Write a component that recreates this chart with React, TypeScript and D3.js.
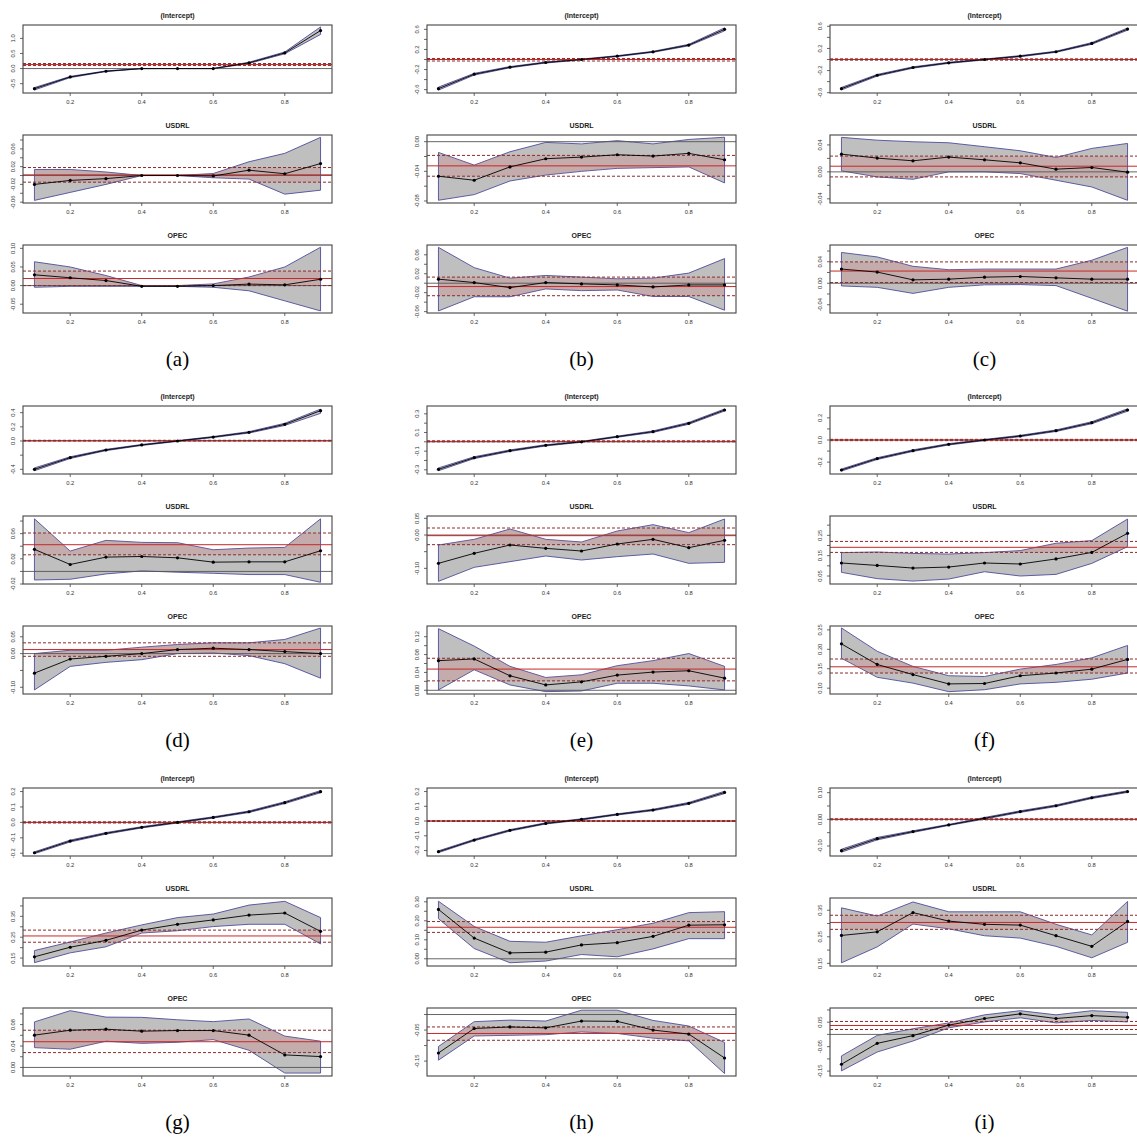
import React from "react";
import * as d3 from "d3";

const taus = [0.1, 0.2, 0.3, 0.4, 0.5, 0.6, 0.7, 0.8, 0.9];
const xTickLabels = ["0.2", "0.4", "0.6", "0.8"];
const subTitles = ["(Intercept)", "USDRL", "OPEC"];
const panelLabels = ["(a)", "(b)", "(c)", "(d)", "(e)", "(f)", "(g)", "(h)", "(i)"];

// (a)
const aIntercept = {
  coef: [-0.667, -0.278, -0.089, 0, 0, 0, 0.19, 0.52, 1.26],
  low: [-0.71, -0.3, -0.1, -0.004, 0, -0.004, 0.17, 0.49, 1.13],
  high: [-0.63, -0.26, -0.078, 0.004, 0, 0.004, 0.21, 0.55, 1.38],
  ols: [0.133, 0.1, 0.167],
  domain: [-0.81, 1.444],
  ticks: [-0.5, 0, 0.5, 1.0],
  labels: ["-0.5", "0.0", "0.5", "1.0"],
};
const aUsdrl = {
  coef: [-0.02, -0.011, -0.007, 0, 0, -0.001, 0.012, 0.004, 0.027],
  low: [-0.056, -0.038, -0.02, 0, 0, -0.005, -0.008, -0.042, -0.033],
  high: [0.0136, 0.0136, 0.008, 0, 0, 0.0045, 0.031, 0.05, 0.086],
  ols: [0.0015, -0.015, 0.018],
  domain: [-0.0619, 0.0913],
  ticks: [-0.06, -0.04, -0.02, 0, 0.02, 0.04, 0.06, 0.08],
  labels: ["-0.06", "-0.02", "0.02", "0.06"],
};
const aOpec = {
  coef: [0.029, 0.021, 0.0136, -0.002, -0.002, 0, 0.004, 0.002, 0.017],
  low: [-0.0045, -0.002, -0.002, -0.002, -0.002, -0.0045, -0.014, -0.041, -0.068],
  high: [0.064, 0.05, 0.027, 0, 0, 0.0045, 0.023, 0.05, 0.103],
  ols: [0.019, 0.0, 0.039],
  domain: [-0.0736, 0.109],
  ticks: [-0.05, 0, 0.05, 0.1],
  labels: ["-0.05", "0.00", "0.05", "0.10"],
};

// (b)
const bIntercept = {
  coef: [-0.58, -0.293, -0.153, -0.06, 0, 0.067, 0.153, 0.287, 0.6],
  low: [-0.61, -0.31, -0.165, -0.07, -0.008, 0.058, 0.143, 0.272, 0.57],
  high: [-0.55, -0.276, -0.141, -0.05, 0.008, 0.076, 0.163, 0.302, 0.63],
  ols: [0, -0.03, 0.02],
  domain: [-0.667, 0.687],
  ticks: [-0.6, -0.4, -0.2, 0, 0.2, 0.4, 0.6],
  labels: ["-0.6", "-0.2", "0.2", "0.6"],
};
const bUsdrl = {
  coef: [-0.0466, -0.052, -0.034, -0.023, -0.0208, -0.0176, -0.0194, -0.0158, -0.0244],
  low: [-0.079, -0.0714, -0.053, -0.045, -0.04, -0.036, -0.035, -0.034, -0.0556],
  high: [-0.0145, -0.0316, -0.0136, -0.001, -0.003, 0.0014, -0.003, 0.003, 0.006],
  ols: [-0.0326, -0.0466, -0.0185],
  domain: [-0.0827, 0.009],
  ticks: [-0.08, -0.06, -0.04, -0.02, 0],
  labels: ["-0.08", "-0.04", "0.00"],
};
const bOpec = {
  coef: [0.0086, 0.0014, -0.0093, 0.0014, -0.0014, -0.0036, -0.0079, -0.0036, -0.0036],
  low: [-0.0586, -0.0286, -0.0286, -0.012, -0.0157, -0.0143, -0.028, -0.028, -0.057],
  high: [0.0757, 0.0329, 0.0107, 0.0164, 0.0129, 0.0093, 0.0107, 0.0214, 0.052],
  ols: [-0.0071, -0.0264, 0.0129],
  domain: [-0.0629, 0.0807],
  ticks: [-0.06, -0.04, -0.02, 0, 0.02, 0.04, 0.06],
  labels: ["-0.06", "-0.02", "0.02", "0.06"],
};

// (c)
const cIntercept = {
  coef: [-0.527, -0.285, -0.145, -0.06, 0, 0.06, 0.14, 0.29, 0.55],
  low: [-0.55, -0.3, -0.157, -0.07, -0.008, 0.05, 0.13, 0.275, 0.53],
  high: [-0.505, -0.27, -0.133, -0.05, 0.008, 0.07, 0.15, 0.305, 0.57],
  ols: [0, -0.012, 0.012],
  domain: [-0.606, 0.624],
  ticks: [-0.6, -0.4, -0.2, 0, 0.2, 0.4, 0.6],
  labels: ["-0.6", "-0.2", "0.2", "0.6"],
};
const cUsdrl = {
  coef: [0.0263, 0.0204, 0.0164, 0.0219, 0.0179, 0.0134, 0.004, 0.0065, -0.0005],
  low: [0.0015, -0.0075, -0.011, 0, 0, -0.0025, -0.0124, -0.0224, -0.0422],
  high: [0.0512, 0.047, 0.0447, 0.0432, 0.0373, 0.0313, 0.0214, 0.0348, 0.0422],
  ols: [0.0084, -0.0075, 0.0234],
  domain: [-0.0462, 0.0547],
  ticks: [-0.04, -0.02, 0, 0.02, 0.04],
  labels: ["-0.04", "0.00", "0.04"],
};
const cOpec = {
  coef: [0.0264, 0.0208, 0.0063, 0.0076, 0.0113, 0.0126, 0.01, 0.0076, 0.0076],
  low: [-0.005, -0.0076, -0.0189, -0.0076, -0.003, -0.0025, -0.0044, -0.028, -0.052],
  high: [0.0573, 0.049, 0.0315, 0.0252, 0.0264, 0.0264, 0.0264, 0.0428, 0.0668],
  ols: [0.0227, 0.0013, 0.0397],
  domain: [-0.0554, 0.0712],
  ticks: [-0.04, -0.02, 0, 0.02, 0.04, 0.06],
  labels: ["-0.04", "0.00", "0.04"],
};

// (d)
const dIntercept = {
  coef: [-0.4, -0.235, -0.127, -0.056, 0, 0.056, 0.122, 0.235, 0.428],
  low: [-0.42, -0.247, -0.136, -0.063, -0.006, 0.049, 0.112, 0.22, 0.39],
  high: [-0.38, -0.223, -0.118, -0.049, 0.006, 0.063, 0.132, 0.25, 0.45],
  ols: [0.005, 0, 0.01],
  domain: [-0.466, 0.494],
  ticks: [-0.4, -0.2, 0, 0.2, 0.4],
  labels: ["-0.4", "0.0", "0.2", "0.4"],
};
const dUsdrl = {
  coef: [0.035, 0.011, 0.0227, 0.0237, 0.0216, 0.0147, 0.0152, 0.0152, 0.0328],
  low: [-0.0136, -0.0125, -0.004, 0.0008, -0.0013, -0.003, -0.005, -0.005, -0.0173],
  high: [0.0835, 0.0323, 0.0493, 0.0461, 0.0456, 0.0344, 0.0371, 0.0381, 0.0835],
  ols: [0.0424, 0.0264, 0.061],
  domain: [-0.02, 0.088],
  ticks: [-0.02, 0, 0.02, 0.04, 0.06, 0.08],
  labels: ["-0.02", "0.02", "0.06"],
};
const dOpec = {
  coef: [-0.058, -0.016, -0.008, 0, 0.012, 0.016, 0.012, 0.006, 0],
  low: [-0.108, -0.038, -0.026, -0.018, 0, 0.002, -0.006, -0.03, -0.073],
  high: [0, 0.01, 0.01, 0.019, 0.027, 0.032, 0.032, 0.042, 0.076],
  ols: [0.012, -0.008, 0.032],
  domain: [-0.12, 0.082],
  ticks: [-0.1, -0.05, 0, 0.05],
  labels: ["-0.10", "0.00", "0.05"],
};

// (e)
const eIntercept = {
  coef: [-0.295, -0.17, -0.095, -0.0375, 0, 0.055, 0.109, 0.198, 0.341],
  low: [-0.31, -0.18, -0.103, -0.044, -0.005, 0.049, 0.101, 0.188, 0.33],
  high: [-0.28, -0.16, -0.087, -0.031, 0.005, 0.061, 0.117, 0.208, 0.352],
  ols: [0.005, 0, 0.011],
  domain: [-0.345, 0.384],
  ticks: [-0.3, -0.2, -0.1, 0, 0.1, 0.2, 0.3],
  labels: ["-0.3", "-0.1", "0.1", "0.3"],
};
const eUsdrl = {
  coef: [-0.085, -0.055, -0.03, -0.04, -0.048, -0.027, -0.013, -0.038, -0.016],
  low: [-0.139, -0.097, -0.08, -0.063, -0.075, -0.065, -0.057, -0.085, -0.082],
  high: [-0.03, -0.013, 0.018, -0.013, -0.021, 0.012, 0.031, 0.007, 0.048],
  ols: [-0.002, -0.029, 0.021],
  domain: [-0.147, 0.057],
  ticks: [-0.1, -0.05, 0, 0.05],
  labels: ["-0.10", "0.00", "0.05"],
};
const eOpec = {
  coef: [0.0664, 0.0702, 0.0325, 0.012, 0.0189, 0.034, 0.0408, 0.0438, 0.0272],
  low: [0.0008, 0.046, 0.012, -0.003, -0.0015, 0.0158, 0.0158, 0.0098, 0.0008],
  high: [0.138, 0.099, 0.0536, 0.0287, 0.0347, 0.0551, 0.0664, 0.0823, 0.0536],
  ols: [0.0475, 0.0211, 0.0717],
  domain: [-0.0083, 0.144],
  ticks: [0, 0.02, 0.04, 0.06, 0.08, 0.1, 0.12],
  labels: ["0.00", "0.04", "0.08", "0.12"],
};

// (f)
const fIntercept = {
  coef: [-0.271, -0.168, -0.096, -0.039, 0, 0.036, 0.084, 0.156, 0.271],
  low: [-0.28, -0.176, -0.103, -0.045, -0.005, 0.03, 0.077, 0.147, 0.26],
  high: [-0.262, -0.16, -0.089, -0.033, 0.005, 0.042, 0.091, 0.165, 0.282],
  ols: [0, -0.006, 0.006],
  domain: [-0.307, 0.307],
  ticks: [-0.2, -0.1, 0, 0.1, 0.2],
  labels: ["-0.2", "0.0", "0.2"],
};
const fUsdrl = {
  coef: [0.114, 0.102, 0.089, 0.094, 0.114, 0.109, 0.134, 0.166, 0.26],
  low: [0.068, 0.037, 0.025, 0.035, 0.071, 0.05, 0.058, 0.112, 0.194],
  high: [0.165, 0.168, 0.161, 0.158, 0.165, 0.175, 0.211, 0.224, 0.33],
  ols: [0.191, 0.166, 0.22],
  domain: [0.0107, 0.345],
  ticks: [0.05, 0.1, 0.15, 0.2, 0.25, 0.3],
  labels: ["0.05", "0.15", "0.25"],
};
const fOpec = {
  coef: [0.214, 0.161, 0.135, 0.111, 0.112, 0.132, 0.139, 0.149, 0.174],
  low: [0.177, 0.128, 0.113, 0.091, 0.096, 0.111, 0.115, 0.123, 0.139],
  high: [0.255, 0.195, 0.156, 0.132, 0.13, 0.149, 0.161, 0.178, 0.21],
  ols: [0.155, 0.139, 0.175],
  domain: [0.085, 0.26],
  ticks: [0.1, 0.15, 0.2, 0.25],
  labels: ["0.10", "0.15", "0.20", "0.25"],
};

// (g)
const gIntercept = {
  coef: [-0.197, -0.121, -0.071, -0.032, 0, 0.032, 0.069, 0.128, 0.199],
  low: [-0.203, -0.127, -0.076, -0.036, -0.004, 0.028, 0.064, 0.122, 0.192],
  high: [-0.191, -0.115, -0.066, -0.028, 0.004, 0.036, 0.074, 0.134, 0.206],
  ols: [0, -0.004, 0.004],
  domain: [-0.218, 0.223],
  ticks: [-0.2, -0.1, 0, 0.1, 0.2],
  labels: ["-0.2", "-0.1", "0.0", "0.1", "0.2"],
};
const gUsdrl = {
  coef: [0.156, 0.202, 0.235, 0.284, 0.312, 0.333, 0.356, 0.366, 0.278],
  low: [0.128, 0.175, 0.204, 0.27, 0.281, 0.301, 0.312, 0.312, 0.218],
  high: [0.186, 0.227, 0.27, 0.309, 0.344, 0.361, 0.404, 0.422, 0.344],
  ols: [0.256, 0.226, 0.284],
  domain: [0.112, 0.438],
  ticks: [0.15, 0.2, 0.25, 0.3, 0.35, 0.4],
  labels: ["0.15", "0.25", "0.35"],
};
const gOpec = {
  coef: [0.0603, 0.0695, 0.0714, 0.0677, 0.0689, 0.0689, 0.0603, 0.0234, 0.0203],
  low: [0.037, 0.034, 0.049, 0.045, 0.047, 0.052, 0.032, -0.0105, -0.0105],
  high: [0.085, 0.106, 0.094, 0.0935, 0.089, 0.0855, 0.0905, 0.0585, 0.049],
  ols: [0.048, 0.0277, 0.0695],
  domain: [-0.016, 0.111],
  ticks: [0, 0.02, 0.04, 0.06, 0.08, 0.1],
  labels: ["0.00", "0.04", "0.08"],
};

// (h)
const hIntercept = {
  coef: [-0.208, -0.129, -0.063, -0.016, 0.011, 0.045, 0.075, 0.12, 0.194],
  low: [-0.214, -0.134, -0.068, -0.02, 0.007, 0.041, 0.07, 0.114, 0.186],
  high: [-0.202, -0.124, -0.058, -0.012, 0.015, 0.049, 0.08, 0.126, 0.202],
  ols: [0, -0.003, 0.003],
  domain: [-0.237, 0.224],
  ticks: [-0.2, -0.1, 0, 0.1, 0.2],
  labels: ["-0.2", "-0.1", "0.0", "0.1", "0.2"],
};
const hUsdrl = {
  coef: [0.26, 0.109, 0.031, 0.035, 0.073, 0.085, 0.118, 0.177, 0.179],
  low: [0.211, 0.054, -0.021, -0.012, 0.0225, 0.0104, 0.052, 0.106, 0.106],
  high: [0.303, 0.17, 0.092, 0.087, 0.121, 0.153, 0.187, 0.243, 0.248],
  ols: [0.166, 0.139, 0.196],
  domain: [-0.038, 0.32],
  ticks: [0, 0.05, 0.1, 0.15, 0.2, 0.25, 0.3],
  labels: ["0.00", "0.10", "0.20", "0.30"],
};
const hOpec = {
  coef: [-0.124, -0.045, -0.04, -0.043, -0.021, -0.022, -0.05, -0.063, -0.14],
  low: [-0.147, -0.069, -0.067, -0.065, -0.056, -0.061, -0.076, -0.085, -0.19],
  high: [-0.103, -0.023, -0.018, -0.021, 0.014, 0.014, -0.019, -0.037, -0.09],
  ols: [-0.061, -0.083, -0.04],
  domain: [-0.198, 0.021],
  ticks: [-0.15, -0.1, -0.05, 0],
  labels: ["-0.15", "-0.05"],
};

// (i)
const iIntercept = {
  coef: [-0.1175, -0.0725, -0.046, -0.021, 0.004, 0.029, 0.051, 0.081, 0.104],
  low: [-0.123, -0.077, -0.049, -0.023, 0.001, 0.026, 0.048, 0.078, 0.101],
  high: [-0.112, -0.068, -0.043, -0.019, 0.007, 0.032, 0.054, 0.084, 0.107],
  ols: [0, -0.002, 0.002],
  domain: [-0.1375, 0.1175],
  ticks: [-0.1, -0.05, 0, 0.05, 0.1],
  labels: ["-0.10", "0.00", "0.10"],
};
const iUsdrl = {
  coef: [0.255, 0.2685, 0.341, 0.309, 0.297, 0.294, 0.254, 0.214, 0.308],
  low: [0.152, 0.212, 0.298, 0.28, 0.254, 0.245, 0.214, 0.171, 0.229],
  high: [0.359, 0.328, 0.381, 0.344, 0.344, 0.344, 0.297, 0.257, 0.383],
  ols: [0.304, 0.278, 0.331],
  domain: [0.14, 0.396],
  ticks: [0.15, 0.2, 0.25, 0.3, 0.35],
  labels: ["0.15", "0.25", "0.35"],
};
const iOpec = {
  coef: [-0.122, -0.0365, -0.005, 0.038, 0.065, 0.084, 0.065, 0.077, 0.07],
  low: [-0.149, -0.072, -0.027, 0.027, 0.051, 0.068, 0.047, 0.057, 0.051],
  high: [-0.088, -0.004, 0.023, 0.047, 0.08, 0.097, 0.08, 0.097, 0.09],
  ols: [0.0365, 0.02, 0.053],
  domain: [-0.17, 0.108],
  ticks: [-0.15, -0.1, -0.05, 0, 0.05, 0.1],
  labels: ["-0.15", "-0.05", "0.05"],
};

const panels = [
  [aIntercept, aUsdrl, aOpec],
  [bIntercept, bUsdrl, bOpec],
  [cIntercept, cUsdrl, cOpec],
  [dIntercept, dUsdrl, dOpec],
  [eIntercept, eUsdrl, eOpec],
  [fIntercept, fUsdrl, fOpec],
  [gIntercept, gUsdrl, gOpec],
  [hIntercept, hUsdrl, hOpec],
  [iIntercept, iUsdrl, iOpec],
];

const width = 1137;
const height = 1140;
const colX = [23, 427, 830];
const rowY = [0, 381, 763];
const subTop = [25, 135, 245];
const boxW = 309;
const boxH = 68;
const sans = "'Liberation Sans', Arial, sans-serif";

const x = d3.scaleLinear().domain([0.068, 0.932]).range([0, boxW]);

function SubPlot({ d, title, id }: { d: any; title: string; id: string }) {
  const y = d3.scaleLinear().domain(d.domain).range([boxH, 0]);
  const band = d3
    .area<number>()
    .x((t) => x(t))
    .y0((_, i) => y(d.low[i]))
    .y1((_, i) => y(d.high[i]))(taus) as string;
  const line = d3
    .line<number>()
    .x((t) => x(t))
    .y((_, i) => y(d.coef[i]))(taus) as string;
  const zeroIn = d.domain[0] < 0 && d.domain[1] > 0;

  return (
    <g>
      <defs>
        <clipPath id={`box-${id}`}>
          <rect x={0} y={0} width={boxW} height={boxH} />
        </clipPath>
        <clipPath id={`band-${id}`}>
          <path d={band} />
        </clipPath>
      </defs>
      <text
        x={boxW / 2}
        y={-7}
        textAnchor="middle"
        fontFamily={sans}
        fontWeight="bold"
        fontSize={7}
        fill="#222"
      >
        {title}
      </text>
      <g clipPath={`url(#box-${id})`}>
        <path d={band} fill="#bfbfbf" stroke="#4d4d9c" strokeWidth={0.9} />
        {/* pale red tint where the OLS interval overlaps the band */}
        <rect
          x={0}
          width={boxW}
          y={y(d.ols[2])}
          height={y(d.ols[1]) - y(d.ols[2])}
          fill="#d46a6a"
          opacity={0.22}
          clipPath={`url(#band-${id})`}
        />
        {zeroIn && (
          <line x1={0} x2={boxW} y1={y(0)} y2={y(0)} stroke="#555" strokeWidth={0.9} />
        )}
        <line x1={0} x2={boxW} y1={y(d.ols[0])} y2={y(d.ols[0])} stroke="#c62828" strokeWidth={1} />
        {[d.ols[1], d.ols[2]].map((v: number, k: number) => (
          <line
            key={k}
            x1={0}
            x2={boxW}
            y1={y(v)}
            y2={y(v)}
            stroke="#8e2a2a"
            strokeWidth={1}
            strokeDasharray="3,2"
          />
        ))}
        <path d={line} fill="none" stroke="#000" strokeWidth={0.9} />
        {taus.map((t, i) => (
          <circle key={i} cx={x(t)} cy={y(d.coef[i])} r={1.6} fill="#000" />
        ))}
      </g>
      <rect x={0} y={0} width={boxW} height={boxH} fill="none" stroke="#444" strokeWidth={1.1} />
      {xTickLabels.map((l) => (
        <g key={l} transform={`translate(${x(+l)},${boxH})`}>
          <line y1={0} y2={3} stroke="#444" strokeWidth={0.8} />
          <text y={11} textAnchor="middle" fontFamily={sans} fontSize={5.8} fill="#333">
            {l}
          </text>
        </g>
      ))}
      {d.ticks.map((v: number) => (
        <line key={v} x1={-3} x2={0} y1={y(v)} y2={y(v)} stroke="#444" strokeWidth={0.8} />
      ))}
      {d.labels.map((l: string) => (
        <text
          key={l}
          transform={`translate(-8,${y(+l)}) rotate(-90)`}
          textAnchor="middle"
          fontFamily={sans}
          fontSize={5.8}
          fill="#333"
        >
          {l}
        </text>
      ))}
    </g>
  );
}

export default function App() {
  return (
    <svg
      width={width}
      height={height}
      style={{ position: "absolute", left: 0, top: 0, background: "#fff" }}
    >
      {panels.map((subs, p) => {
        const cx = colX[p % 3];
        const ry = rowY[Math.floor(p / 3)];
        return (
          <g key={p}>
            {subs.map((d, s) => (
              <g key={s} transform={`translate(${cx},${ry + subTop[s]})`}>
                <SubPlot d={d} title={subTitles[s]} id={`${p}-${s}`} />
              </g>
            ))}
            <text
              x={cx + boxW / 2}
              y={ry + 366}
              textAnchor="middle"
              fontFamily="'Liberation Serif', 'Times New Roman', serif"
              fontSize={21}
              fill="#000"
            >
              {panelLabels[p]}
            </text>
          </g>
        );
      })}
    </svg>
  );
}
